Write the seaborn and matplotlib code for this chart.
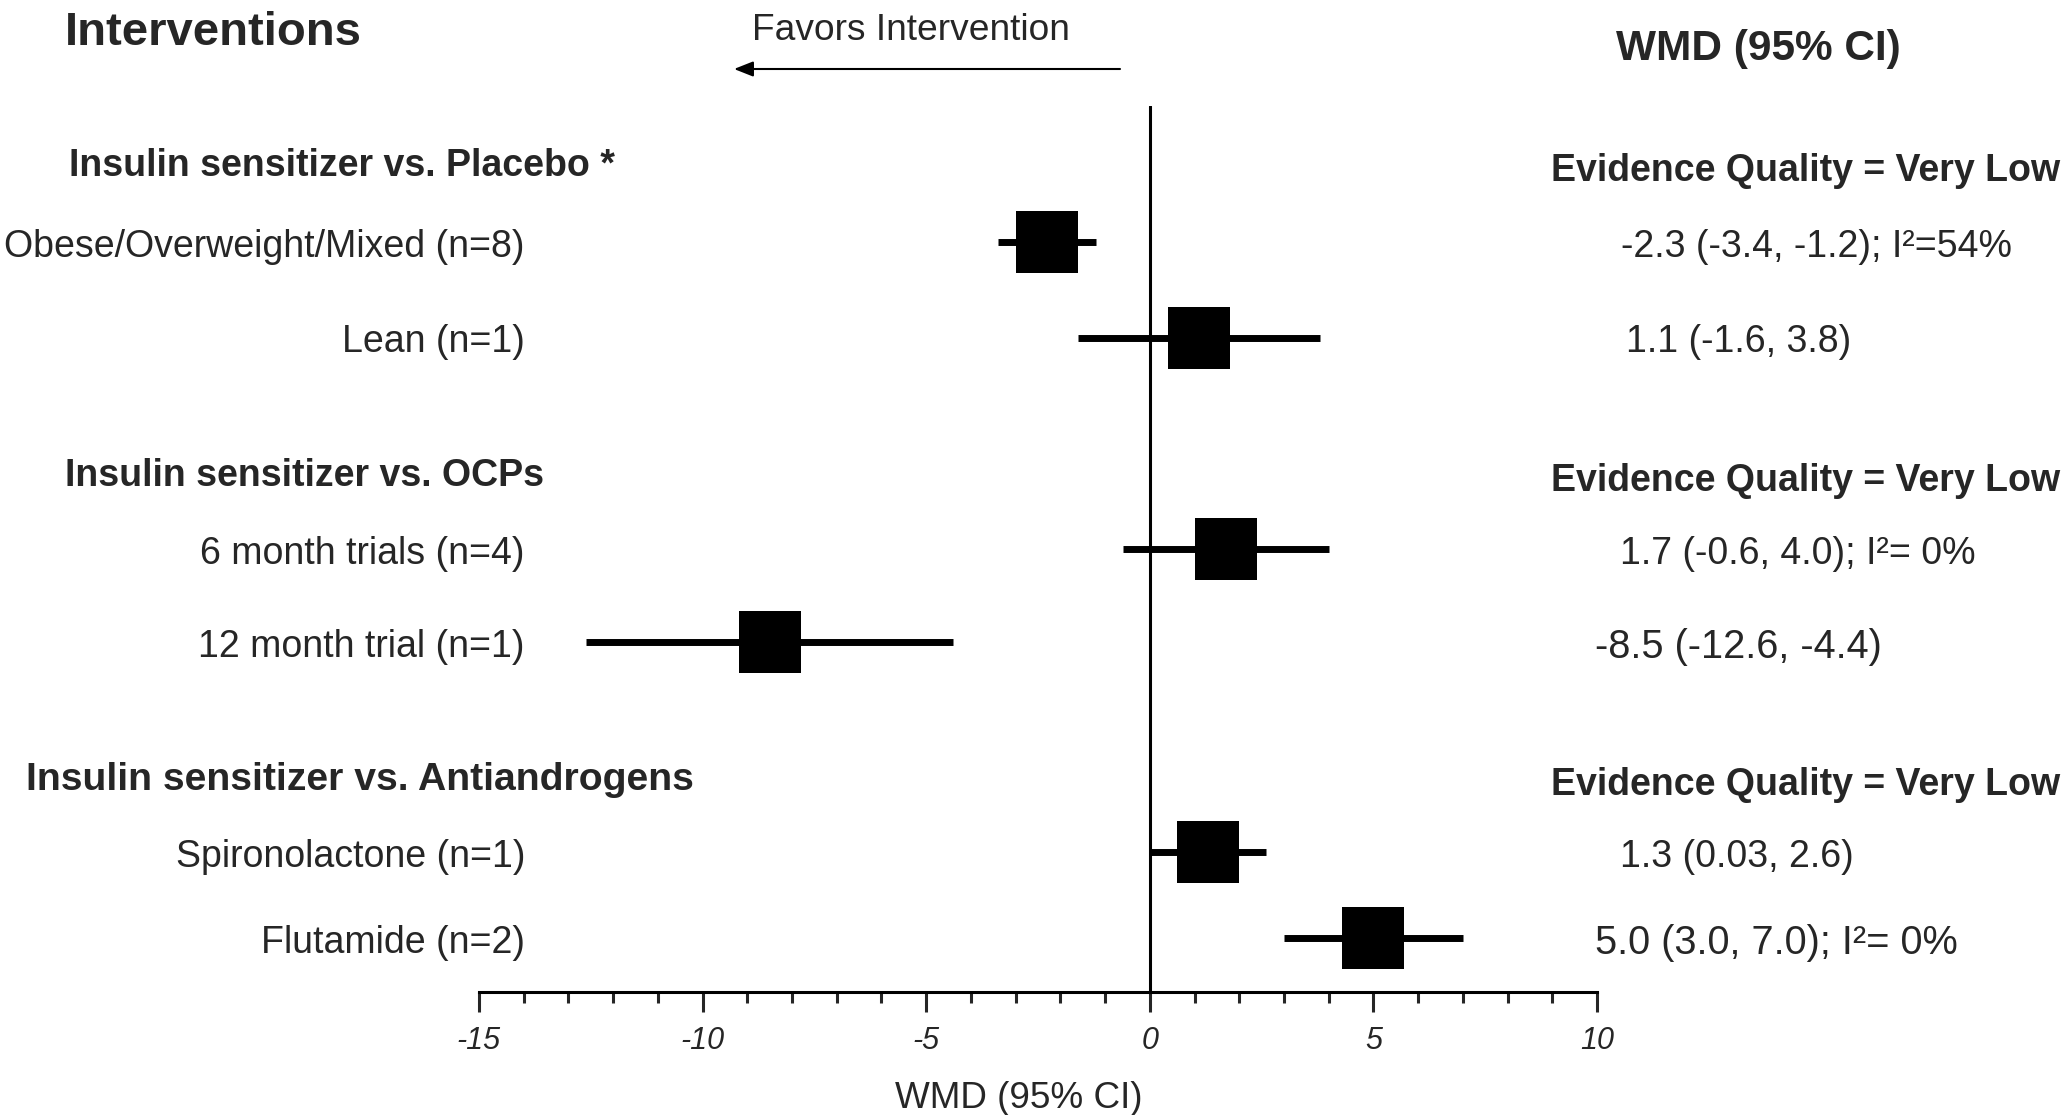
import numpy as np
import pandas as pd
import matplotlib
matplotlib.use("Agg")
import matplotlib.pyplot as plt
from matplotlib.transforms import blended_transform_factory
import seaborn as sns

# ===================== DATA =====================
groups = ["Insulin sensitizer vs. Placebo *",
          "Insulin sensitizer vs. OCPs",
          "Insulin sensitizer vs. Antiandrogens"]
group_quality = ["Evidence Quality = Very Low",
                 "Evidence Quality = Very Low",
                 "Evidence Quality = Very Low"]
studies = [["Obese/Overweight/Mixed (n=8)", "Lean (n=1)"],
           ["6 month trials (n=4)", "12 month trial (n=1)"],
           ["Spironolactone (n=1)", "Flutamide (n=2)"]]
wmd = [-2.3, 1.1, 1.7, -8.5, 1.3, 5.0]
ci_low = [-3.4, -1.6, -0.6, -12.6, 0.03, 3.0]
ci_high = [-1.2, 3.8, 4.0, -4.4, 2.6, 7.0]
wmd_text = ["-2.3 (-3.4, -1.2); I\u00b2=54%",
            "1.1 (-1.6, 3.8)",
            "1.7 (-0.6, 4.0); I\u00b2= 0%",
            "-8.5 (-12.6, -4.4)",
            "1.3 (0.03, 2.6)",
            "5.0 (3.0, 7.0); I\u00b2= 0%"]
x_ticks = [-15, -10, -5, 0, 5, 10]

# ===================== LAYOUT =====================
W, H = 2070, 1115
header_y = [0.0, 3.30, 6.53]
row_y = [0.86, 1.88, 4.13, 5.12, 7.35, 8.27]
header_x_px = [69, 65, 26]
header_size = [27, 27, 28.2]
value_x_px = [1621, 1626, 1620, 1595, 1620, 1595]
value_size = [27, 27, 27, 28.6, 27, 28.6]
txt_dy = 0.05

df = pd.DataFrame({"label": [s for g in studies for s in g],
                   "wmd": wmd, "lo": ci_low, "hi": ci_high, "ypos": row_y})

sns.set_style("white")
plt.rcParams["font.family"] = ["Liberation Sans", "DejaVu Sans"]

fig = plt.figure(figsize=(W / 100, H / 100), dpi=100)
ax = fig.add_axes([479 / W, 1 - 992 / H, (1597 - 479) / W, (992 - 106) / H])

ax.axvline(0, color="black", lw=2.2, zorder=1)
ax.hlines(df["ypos"], df["lo"], df["hi"], color="black", lw=5, capstyle="butt", zorder=2)
sns.scatterplot(data=df, x="wmd", y="ypos", marker="s", s=44 ** 2, color="black",
                linewidth=0, ax=ax, zorder=3, legend=False)

ax.set_xlim(-15, 10)
ax.set_ylim(8.84, -0.585)
ax.set_yticks([])
ax.set_xticks(x_ticks)
ax.set_xticks(np.arange(-15, 11, 1), minor=True)
ax.set_xticklabels([str(t) for t in x_ticks], fontsize=22, fontstyle="italic")
ax.tick_params(axis="x", which="major", direction="out", length=14.4, width=2.2, pad=10, bottom=True)
ax.tick_params(axis="x", which="minor", direction="out", length=7.9, width=2.2, bottom=True)
ax.set_xlabel("")
ax.set_ylabel("")
for side in ["left", "top", "right"]:
    ax.spines[side].set_visible(False)
ax.spines["bottom"].set_linewidth(2.2)
ax.spines["bottom"].set_color("black")

trans = blended_transform_factory(fig.transFigure, ax.transData)

for gi, g in enumerate(groups):
    ax.text(header_x_px[gi] / W, header_y[gi] + 0.056, g, transform=trans,
            fontsize=header_size[gi], fontweight="bold", ha="left", va="center")
    ax.text(2060 / W, header_y[gi] + 0.106, group_quality[gi], transform=trans, fontsize=27,
            fontweight="bold", ha="right", va="center")

for i, row in df.iterrows():
    ax.text(525 / W, row["ypos"] + txt_dy, row["label"], transform=trans, fontsize=27,
            ha="right", va="center")
    ax.text(value_x_px[i] / W, row["ypos"] + txt_dy, wmd_text[i], transform=trans,
            fontsize=value_size[i], ha="left", va="center")

# ===================== HEADERS =====================
fig.text(65 / W, 1 - 33 / H, "Interventions", fontsize=34, fontweight="bold", ha="left", va="center")
fig.text(1616 / W, 1 - 49 / H, "WMD (95% CI)", fontsize=30.5, fontweight="bold", ha="left", va="center")
fig.text(752 / W, 1 - 31 / H, "Favors Intervention", fontsize=26.7, ha="left", va="center")
ax.annotate("", xy=(734, H - 69), xytext=(1120, H - 69),
            xycoords="figure pixels", textcoords="figure pixels",
            arrowprops=dict(arrowstyle="-|>,head_length=0.58,head_width=0.23",
                            mutation_scale=20, lw=1.5, color="black",
                            shrinkA=0, shrinkB=0))
fig.text(1019 / W, 1 - 1098 / H, "WMD (95% CI)", fontsize=26.6, ha="center", va="center")

fig.savefig("out.png", dpi=100)
